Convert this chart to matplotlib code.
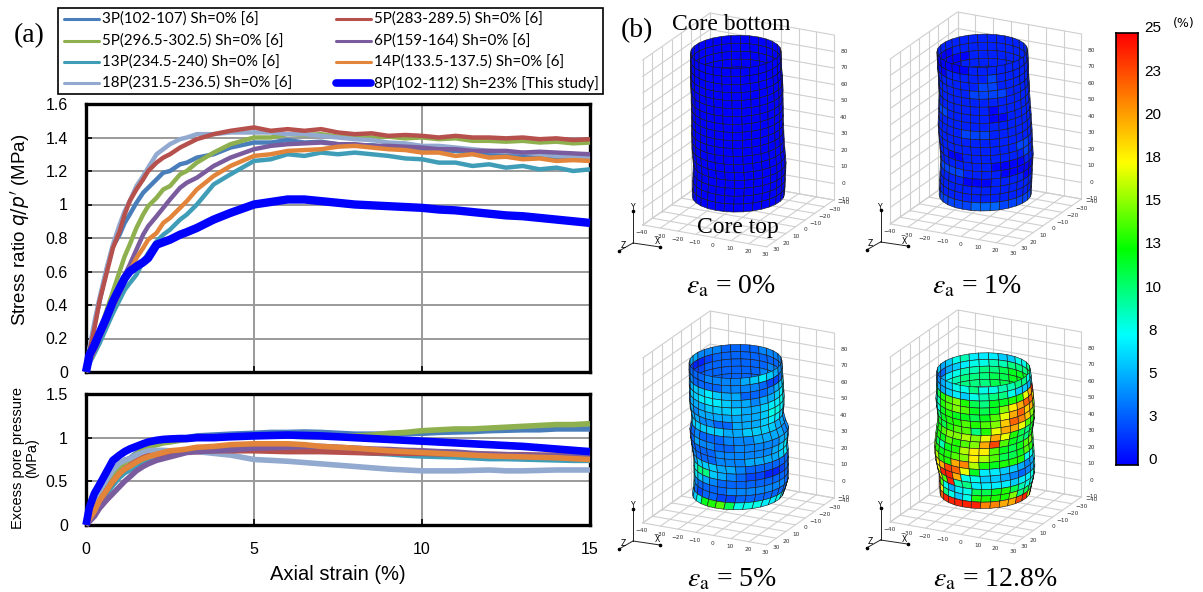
import matplotlib
matplotlib.use('Agg')
import matplotlib.pyplot as plt
import numpy as np
from matplotlib.collections import PolyCollection
from matplotlib.colors import LinearSegmentedColormap, Normalize

W, H = 1203, 592
plt.rcParams['mathtext.fontset'] = 'stix'

########################## CURVE DATA ################################
labels = ['3P(102-107) Sh=0% [6]', '5P(296.5-302.5) Sh=0% [6]', '13P(234.5-240) Sh=0% [6]',
          '18P(231.5-236.5) Sh=0% [6]', '5P(283-289.5) Sh=0% [6]', '6P(159-164) Sh=0% [6]',
          '14P(133.5-137.5) Sh=0% [6]', '8P(102-112) Sh=23% [This study]']
colors = ['#4A7EBB', '#8FB04F', '#3F9DB8', '#92A9D0', '#B5504D', '#7A5C9E', '#E2853A', '#0000FF']

strain = [0, .1, .25, .4, .6, .8, 1, 1.15, 1.3, 1.5, 1.7, 1.85, 2.1, 2.3, 2.5, 2.8, 3, 3.3, 3.8, 4.3, 5,
          5.5, 6, 6.5, 7, 7.5, 8, 8.5, 9, 9.5, 10, 10.5, 11, 11.5, 12, 12.5, 13, 13.5, 14, 14.5, 15]

q_3p = [0, .13, .28, .42, .60, .75, .82, .89, .94, 1.01, 1.07, 1.10, 1.15, 1.19, 1.20, 1.24, 1.25, 1.28, 1.30, 1.34, 1.37,
        1.37, 1.385, 1.37, 1.375, 1.36, 1.35, 1.355, 1.34, 1.335, 1.33, 1.325, 1.32, 1.31, 1.30, 1.30, 1.29, 1.285, 1.28, 1.28, 1.27]
q_5p2 = [0, .07, .16, .24, .36, .48, .60, .69, .76, .86, .94, .99, 1.04, 1.09, 1.11, 1.18, 1.20, 1.25, 1.31, 1.36, 1.40,
         1.40, 1.42, 1.415, 1.42, 1.405, 1.41, 1.40, 1.405, 1.395, 1.40, 1.39, 1.395, 1.38, 1.38, 1.375, 1.38, 1.37, 1.375, 1.365, 1.37]
q_13p = [0, .05, .11, .17, .26, .35, .43, .49, .53, .58, .66, .71, .78, .82, .85, .91, .94, 1.0, 1.12, 1.18, 1.26,
         1.27, 1.30, 1.29, 1.31, 1.30, 1.31, 1.30, 1.29, 1.275, 1.27, 1.25, 1.25, 1.23, 1.24, 1.22, 1.23, 1.21, 1.22, 1.20, 1.21]
q_18p = [0, .14, .30, .44, .61, .76, .88, .96, 1.02, 1.11, 1.17, 1.22, 1.30, 1.33, 1.36, 1.39, 1.40, 1.42, 1.42, 1.43, 1.43,
         1.43, 1.42, 1.42, 1.41, 1.40, 1.39, 1.385, 1.37, 1.365, 1.35, 1.35, 1.34, 1.33, 1.32, 1.315, 1.31, 1.30, 1.29, 1.285, 1.28]
q_5p1 = [0, .12, .26, .42, .58, .74, .84, .94, 1.02, 1.09, 1.15, 1.20, 1.25, 1.28, 1.30, 1.34, 1.36, 1.39, 1.42, 1.44, 1.46,
         1.44, 1.45, 1.44, 1.45, 1.43, 1.42, 1.425, 1.41, 1.415, 1.41, 1.40, 1.41, 1.40, 1.40, 1.395, 1.40, 1.39, 1.395, 1.385, 1.39]
q_6p = [0, .06, .13, .21, .31, .41, .51, .58, .64, .73, .82, .87, .93, .98, 1.03, 1.10, 1.13, 1.16, 1.23, 1.28, 1.33,
        1.35, 1.36, 1.365, 1.37, 1.36, 1.36, 1.35, 1.35, 1.345, 1.34, 1.33, 1.33, 1.32, 1.32, 1.32, 1.31, 1.315, 1.31, 1.305, 1.30]
q_14p = [0, .06, .13, .20, .29, .39, .47, .54, .60, .68, .74, .79, .83, .89, .92, .98, 1.02, 1.09, 1.17, 1.23, 1.29,
         1.30, 1.32, 1.325, 1.33, 1.345, 1.35, 1.34, 1.33, 1.325, 1.31, 1.31, 1.29, 1.30, 1.28, 1.285, 1.27, 1.275, 1.26, 1.265, 1.26]
q_8p = [0, .10, .16, .23, .32, .42, .50, .56, .60, .63, .655, .68, .76, .775, .79, .82, .835, .86, .91, .95, 1.0,
        1.015, 1.03, 1.03, 1.02, 1.01, 1.0, .995, .99, .985, .98, .97, .965, .955, .945, .935, .93, .92, .91, .90, .89]
stress_ratio = [q_3p, q_5p2, q_13p, q_18p, q_5p1, q_6p, q_14p, q_8p]

u_3p = [0, .09, .20, .34, .46, .58, .68, .74, .76, .82, .87, .90, .94, .96, .97, .99, 1.0, 1.02, 1.03, 1.04, 1.05,
        1.06, 1.06, 1.065, 1.06, 1.05, 1.04, 1.04, 1.04, 1.045, 1.05, 1.06, 1.065, 1.07, 1.08, 1.085, 1.09, 1.09, 1.10, 1.10, 1.10]
u_5p2 = [0, .08, .19, .32, .44, .56, .66, .72, .75, .81, .86, .89, .92, .94, .95, .97, .98, 1.0, 1.0, 1.01, 1.02,
         1.02, 1.02, 1.01, 1.01, 1.015, 1.02, 1.03, 1.05, 1.06, 1.08, 1.09, 1.10, 1.10, 1.11, 1.12, 1.13, 1.14, 1.15, 1.15, 1.16]
u_13p = [0, .06, .14, .25, .36, .46, .55, .60, .63, .69, .73, .76, .79, .80, .82, .84, .85, .87, .88, .89, .90,
         .90, .89, .885, .87, .855, .84, .825, .815, .80, .79, .785, .78, .77, .76, .76, .755, .75, .745, .74, .74]
u_18p = [0, .10, .21, .36, .51, .63, .71, .74, .76, .80, .83, .85, .855, .855, .85, .85, .85, .84, .82, .80, .75,
         .74, .73, .715, .70, .685, .67, .655, .64, .63, .62, .62, .62, .625, .63, .62, .62, .625, .63, .63, .63]
u_5p1 = [0, .07, .17, .27, .39, .50, .59, .64, .68, .73, .77, .79, .80, .82, .83, .835, .84, .84, .85, .85, .85,
         .845, .84, .84, .84, .835, .83, .825, .825, .82, .82, .815, .815, .81, .81, .805, .805, .80, .80, .80, .80]
u_6p = [0, .04, .10, .19, .28, .36, .44, .50, .55, .62, .67, .70, .74, .76, .78, .81, .83, .84, .85, .86, .88,
        .885, .89, .90, .90, .89, .88, .87, .865, .855, .85, .84, .835, .82, .81, .805, .80, .795, .79, .785, .78]
u_14p = [0, .07, .16, .28, .39, .50, .59, .64, .67, .72, .76, .78, .81, .83, .85, .86, .87, .89, .90, .92, .93,
         .93, .93, .92, .90, .89, .88, .865, .85, .84, .83, .82, .81, .80, .79, .785, .78, .775, .77, .76, .75]
u_8p = [0, .20, .36, .46, .60, .74, .80, .84, .87, .90, .93, .95, .97, .98, .985, .99, .99, 1.0, 1.0, 1.01, 1.02,
        1.025, 1.03, 1.025, 1.02, 1.01, 1.0, .99, .98, .97, .96, .95, .94, .93, .92, .91, .90, .885, .87, .855, .84]
pore_pressure = [u_3p, u_5p2, u_13p, u_18p, u_5p1, u_6p, u_14p, u_8p]

########################## SPECIMEN DATA ################################
panel_labels = ['0%', '1%', '5%', '12.8%']

# strain per cell, rows top to bottom, columns left to right
back_0 = [[0] * 15 for _ in range(5)]
front_0 = [[0] * 15 for _ in range(18)]

back_1 = [[1, 1, 1, 1, 1, 1, 1, 1, 1, 1, 1, 1, 1, 1, 1],
          [0, 0, 0, 0, 1, 1, 1, 1, 1, 1, 1, 1, 1, 1, 1],
          [0, 0, 0, 0, 0, 0, 1, 1, 1, 1, 1, 1, 1, 1, 1],
          [0, 0, 0, 0, 0, 1, 1, 1, 1, 1, 1, 1, 1, 1, 1],
          [0, 0, 0, 0, 0, 1, 1, 1, 1, 1, 1, 1, 1, 1, 1]]
front_1 = [[0, 0, 0, 0, 0, 0, 1, 1, 1, 1, 1, 1, 1, 1, 1],
           [0, 0, 0, 1, 1, 1, 1, 1, 2, 1, 1, 1, 1, 1, 1],
           [1, 1, 1, 1, 1, 1, 1, 2, 2, 1, 1, 1, 1, 1, 1],
           [1, 1, 1, 1, 1, 1, 2, 2, 2, 2, 1, 1, 1, 1, 1],
           [1, 1, 1, 1, 1, 1, 1, 1, 1, 1, 1, 1, 1, 1, 1],
           [1, 1, 1, 1, 1, 1, 1, 1, 0, 1, 1, 1, 1, 1, 1],
           [1, 2, 2, 1, 1, 1, 1, 1, 0, 0, 1, 1, 1, 1, 1],
           [1, 1, 1, 1, 1, 1, 1, 1, 1, 1, 1, 1, 1, 1, 1],
           [1, 1, 1, 1, 1, 2, 2, 2, 1, 1, 1, 1, 1, 1, 1],
           [0, 1, 1, 1, 1, 1, 1, 1, 1, 1, 1, 1, 1, 1, 1],
           [0, 1, 1, 1, 1, 1, 1, 1, 1, 1, 1, 2, 2, 1, 1],
           [1, 1, 1, 0, 0, 1, 1, 1, 1, 1, 1, 1, 2, 1, 1],
           [1, 1, 1, 1, 1, 1, 1, 1, 0, 0, 0, 0, 1, 1, 1],
           [1, 2, 2, 2, 2, 1, 1, 1, 1, 0, 0, 0, 0, 0, 1],
           [2, 1, 1, 1, 1, 0, 0, 0, 1, 1, 1, 1, 0, 0, 1],
           [1, 1, 1, 1, 1, 1, 1, 1, 1, 1, 1, 1, 1, 1, 1],
           [1, 1, 1, 1, 1, 1, 1, 1, 1, 1, 1, 1, 1, 1, 1],
           [2, 2, 2, 2, 2, 2, 3, 3, 3, 2, 2, 2, 2, 2, 2]]

back_5 = [[5, 5, 5, 4, 4, 4, 3, 3, 3, 3, 4, 4, 4, 4, 4],
          [3, 2, 1, 1, 2, 3, 3, 3, 3, 3, 3, 3, 3, 4, 4],
          [2, 2, 2, 2, 3, 3, 3, 3, 3, 3, 3, 4, 4, 5, 5],
          [3, 3, 3, 3, 3, 3, 3, 3, 3, 3, 4, 4, 4, 4, 4],
          [3, 3, 3, 3, 3, 3, 3, 3, 3, 3, 4, 4, 4, 4, 4]]
front_5 = [[3, 3, 3, 3, 4, 4, 4, 4, 5, 6, 7, 6, 5, 4, 4],
           [4, 4, 3, 3, 3, 3, 4, 4, 4, 4, 3, 2, 2, 3, 6],
           [5, 5, 6, 6, 7, 6, 5, 5, 3, 3, 3, 4, 5, 6, 7],
           [5, 6, 6, 7, 7, 7, 6, 5, 5, 4, 5, 5, 6, 7, 7],
           [4, 5, 5, 5, 6, 6, 6, 6, 5, 5, 6, 7, 7, 8, 7],
           [5, 5, 4, 5, 5, 5, 5, 5, 5, 5, 6, 8, 8, 7, 6],
           [5, 5, 5, 4, 4, 3, 3, 5, 5, 5, 6, 7, 7, 6, 5],
           [5, 6, 6, 6, 6, 6, 5, 5, 6, 6, 6, 6, 5, 5, 4],
           [3, 3, 4, 3, 3, 3, 4, 4, 4, 5, 5, 5, 5, 4, 4],
           [3, 3, 5, 4, 4, 3, 3, 4, 4, 4, 4, 4, 5, 5, 4],
           [3, 3, 3, 3, 3, 4, 4, 4, 4, 4, 4, 5, 6, 7, 6],
           [4, 4, 3, 3, 3, 4, 4, 4, 5, 5, 5, 5, 6, 7, 5],
           [6, 5, 6, 6, 6, 5, 5, 4, 3, 3, 3, 3, 3, 3, 3],
           [7, 8, 10, 10, 6, 5, 4, 3, 2, 2, 1, 1, 2, 3, 3],
           [6, 7, 6, 5, 4, 3, 3, 3, 3, 3, 3, 3, 3, 3, 3],
           [7, 4, 3, 3, 3, 3, 4, 4, 4, 4, 4, 4, 4, 3, 4],
           [7, 3, 2, 3, 3, 2, 2, 3, 3, 3, 3, 3, 3, 3, 3],
           [5, 6, 8, 12, 13, 14, 11, 8, 8, 8, 7, 7, 8, 7, 7]]

back_12 = [[6, 6, 5, 6, 8, 9, 7, 7, 7, 6, 6, 8, 8, 10, 10],
           [3, 3, 3, 5, 6, 7, 8, 8, 9, 9, 10, 10, 10, 11, 12],
           [5, 4, 5, 7, 8, 9, 9, 10, 10, 11, 12, 12, 12, 13, 13],
           [6, 6, 7, 8, 9, 10, 10, 10, 11, 11, 12, 12, 13, 13, 13],
           [7, 7, 8, 9, 9, 10, 10, 10, 11, 11, 12, 12, 13, 13, 13]]
front_12 = [[4, 4, 5, 6, 8, 8, 10, 8, 8, 9, 9, 10, 10, 8, 8],
            [6, 5, 5, 6, 7, 6, 8, 9, 10, 10, 8, 6, 6, 5, 7],
            [10, 11, 13, 14, 15, 13, 11, 10, 12, 12, 13, 13, 17, 20, 24],
            [7, 9, 13, 14, 15, 14, 12, 11, 12, 15, 18, 20, 22, 22, 18],
            [7, 8, 12, 13, 12, 12, 11, 12, 14, 17, 20, 22, 19, 20, 15],
            [9, 10, 12, 13, 13, 14, 13, 14, 15, 19, 22, 21, 19, 15, 14],
            [13, 12, 11, 13, 14, 14, 10, 13, 17, 20, 20, 17, 14, 13, 14],
            [12, 13, 14, 15, 15, 16, 15, 17, 20, 17, 13, 11, 10, 12, 13],
            [12, 13, 12, 14, 13, 14, 15, 20, 23, 14, 12, 11, 10, 12, 11],
            [14, 11, 9, 12, 13, 16, 18, 18, 14, 12, 11, 12, 14, 15, 13],
            [15, 13, 12, 13, 14, 15, 18, 16, 14, 11, 11, 12, 14, 13, 10],
            [18, 16, 13, 13, 20, 21, 16, 13, 12, 13, 13, 13, 8, 8, 10],
            [19, 18, 20, 23, 22, 17, 12, 7, 7, 6, 6, 5, 4, 5, 8],
            [17, 17, 24, 24, 20, 8, 8, 6, 6, 5, 4, 3, 4, 5, 8],
            [20, 17, 14, 24, 9, 10, 7, 7, 7, 7, 6, 7, 7, 8, 9],
            [24, 14, 8, 5, 7, 8, 11, 11, 12, 13, 11, 9, 8, 8, 8],
            [24, 18, 10, 8, 6, 8, 13, 13, 13, 13, 15, 10, 11, 10, 9],
            [20, 22, 24, 24, 24, 24, 24, 21, 21, 20, 20, 23, 24, 16, 13]]

# ring height, radius and sideways shift in mm, top ring first
ring_y_0 = [87, 82.1, 77.3, 72.5, 67.8, 63, 58.1, 53.4, 48.6, 43.7, 39, 34.1, 29.3, 24.5, 19.8, 15, 10.2, 5.4, .5]
ring_r_0 = [22.5, 22.5, 22.6, 22.7, 22.8, 22.8, 22.8, 22.8, 22.8, 22.8, 22.9, 22.9, 23, 23, 23, 23, 23, 23, 22.9]
ring_s_0 = [-1.5, -1.4, -1.3, -1.1, -.9, -.75, -.7, -.6, -.5, -.45, -.4, -.2, 0, .4, .75, .6, .4, .2, 0]
ring_y_1 = [87, 82.1, 77.3, 72.5, 67.8, 63, 58.1, 53.4, 48.6, 43.7, 39, 34.1, 29.3, 24.5, 19.8, 15, 10.2, 5.4, .5]
ring_r_1 = [22.5, 22.5, 22.5, 22.4, 22.4, 22.4, 22.6, 22.8, 23, 23.2, 23.2, 23.1, 23, 23, 22.9, 22.9, 22.9, 22.9, 22.9]
ring_s_1 = [-2, -1.8, -1.6, -1.3, -1.1, -.9, -.8, -.7, -.6, -.56, -.3, 0, .3, .56, .4, .2, 0, -.2, -.3]
ring_y_5 = [80, 75.6, 71.2, 66.8, 62.4, 58, 53.6, 49.2, 44.8, 40.4, 36, 31.6, 27.2, 22.8, 18.4, 14, 9.6, 5, .5]
ring_r_5 = [23, 23.1, 23.2, 23.3, 23.4, 23.5, 23.3, 22.8, 23.4, 24.5, 24.3, 23.8, 23.7, 23.5, 23.5, 23.4, 23.4, 23, 22.6]
ring_s_5 = [-1.6, -1.5, -1.3, -1.2, -1, -.9, -.7, -.5, 0, .5, .6, .7, 1.2, 1.6, 1.6, 1.6, 1.6, .8, -.3]
ring_y_12 = [74.3, 70.2, 66.1, 62, 57.9, 53.8, 49.7, 45.6, 41.5, 37.4, 33.3, 29.2, 25.1, 21, 16.9, 12.8, 8.7, 4.6, .5]
ring_r_12 = [23.2, 23.4, 23.6, 23.9, 24.2, 24.2, 24.1, 24, 24, 24, 24.3, 24.6, 24.6, 24.5, 24.2, 23.7, 23.3, 22.8, 22.4]
ring_s_12 = [-1.3, -1.1, -.9, -.7, -.6, -.3, .1, .2, -.4, -.9, -1, -1, -.8, -.4, .1, .6, .3, -.1, -.4]

bar_ticks = [25, 22.5, 20, 17.5, 15, 12.5, 10, 7.5, 5, 2.5, 0]
bar_labels = ['25', '23', '20', '18', '15', '13', '10', '8', '5', '3', '0']

########################## FIGURE ################################
fig = plt.figure(figsize=(W / 100, H / 100), dpi=100, facecolor='white')


def px_axes(left, top, right, bottom):
    return fig.add_axes([left / W, 1 - bottom / H, (right - left) / W, (bottom - top) / H])


def style_chart(ax, ymax, yticks, yticklabels):
    ax.set_xlim(0, 15)
    ax.set_ylim(0, ymax)
    ax.set_xticks([0, 5, 10, 15])
    ax.set_yticks(yticks)
    ax.set_yticklabels(yticklabels, family='Liberation Sans', fontsize=11.5)
    ax.grid(True, color='#9a9a9a', lw=1.4)
    ax.set_axisbelow(True)
    ax.tick_params(direction='in', length=4, width=1.2, pad=13)
    for s in ax.spines.values():
        s.set_linewidth(2.4)


ax1 = px_axes(86, 104, 590, 372)
ax2 = px_axes(86, 394, 590, 525)
for i in range(8):
    ax1.plot(strain, stress_ratio[i], color=colors[i], lw=6 if i == 7 else 3.2, clip_on=False, solid_capstyle='butt', zorder=3 + i)
    ax2.plot(strain, pore_pressure[i], color=colors[i], lw=5.5 if i == 7 else 4, clip_on=False, solid_capstyle='butt', zorder=3 + i)

style_chart(ax1, 1.6, [0, .2, .4, .6, .8, 1, 1.2, 1.4, 1.6], ['0', '0.2', '0.4', '0.6', '0.8', '1', '1.2', '1.4', '1.6'])
ax1.set_xticklabels([])
style_chart(ax2, 1.5, [0, .5, 1, 1.5], ['0', '0.5', '1', '1.5'])
ax2.set_xticklabels(['0', '5', '10', '15'], family='Liberation Sans', fontsize=11.5)
ax2.tick_params(axis='x', pad=12)

# overlay in picture pixels for everything outside the two charts
ov = fig.add_axes([0, 0, 1, 1], zorder=5)
ov.set_xlim(0, W)
ov.set_ylim(H, 0)
ov.axis('off')
ov.patch.set_alpha(0)

ov.text(338, 575, 'Axial strain (%)', ha='center', va='center', family='Liberation Sans', fontsize=14.5)
ov.text(20, 230, "Stress ratio $\\mathit{q/p'}$ (MPa)", ha='center', va='center', rotation=90,
        family='Liberation Sans', fontsize=13.5, math_fontfamily='dejavusans')
ov.text(25, 458, 'Excess pore pressure\n(MPa)', ha='center', va='center', rotation=90, linespacing=1.05,
        family='Liberation Sans', fontsize=10.5)
ov.text(29, 36, '(a)', ha='center', va='center', family='Liberation Serif', fontsize=20)
ov.text(637, 31, '(b)', ha='center', va='center', family='Liberation Serif', fontsize=20)

# legend, first column then second
ov.add_patch(plt.Rectangle((58, 7.5), 545, 86, fc='white', ec='black', lw=1.2, zorder=2))
legend_rows = [19, 41, 62, 83]
for i in range(8):
    col = i // 4
    row = legend_rows[i % 4]
    x0 = 64 if col == 0 else 336
    ov.plot([x0, x0 + 35], [row, row], color=colors[i], lw=5.5 if i == 7 else 2.2, zorder=3, solid_capstyle='round')
    ov.text(x0 + 38, row, labels[i], ha='left', va='center', family='Lato', fontsize=10.9, zorder=4)

# colour scale
cmap = LinearSegmentedColormap.from_list('strain', [(0, '#0000FF'), (.3, '#00FFFF'), (.5, '#00FF00'), (.7, '#FFFF00'), (1, '#FF0000')], N=256)
norm = Normalize(0, 25)
cax = px_axes(1116, 33, 1138, 465)
cax.imshow(np.linspace(25, 0, 256).reshape(-1, 1), aspect='auto', cmap=cmap, norm=norm, extent=[0, 1, 0, 25])
cax.set_xticks([])
cax.set_yticks([])
for s in cax.spines.values():
    s.set_linewidth(1.2)
for v, t in zip(bar_ticks, bar_labels):
    ov.text(1153, 465 - v * 17.28 - 4.5, t, ha='center', va='center', family='Liberation Sans', fontsize=11)
ov.text(1184, 23, '(%)', ha='center', va='center', family='DejaVu Sans', fontsize=9)


# oblique view of the specimen box
def project(origin, x, y, z):
    return (origin[0] + 1.77 * (x + 40) - .96 * (z + 40),
            origin[1] + .314 * (x + 40) + .67 * (z + 40) + 1.65 * (90 - y))


def draw_box(origin):
    grid = '#cfcfcf'
    for x in range(-40, 31, 10):
        ov.plot(*zip(project(origin, x, 90, -40), project(origin, x, -10, -40)), color=grid, lw=.8)
        ov.plot(*zip(project(origin, x, -10, -40), project(origin, x, -10, 30)), color=grid, lw=.8)
    for z in range(-40, 31, 10):
        ov.plot(*zip(project(origin, -40, 90, z), project(origin, -40, -10, z)), color=grid, lw=.8)
        ov.plot(*zip(project(origin, -40, -10, z), project(origin, 30, -10, z)), color=grid, lw=.8)
    for y in range(-10, 91, 10):
        ov.plot(*zip(project(origin, -40, y, 30), project(origin, -40, y, -40), project(origin, 30, y, -40)), color=grid, lw=.8)
    tiny = dict(ha='center', va='center', family='DejaVu Sans', fontsize=4.2, color='#333333')
    for y in range(-10, 81, 10):
        p = project(origin, 30, y, -40)
        ov.text(p[0] + 10, p[1], str(y).replace('-', '\u2212'), **tiny)
    for x in range(-40, 31, 10):
        p = project(origin, x, -10, 30)
        ov.text(p[0] - 1, p[1] + 8, str(x).replace('-', '\u2212'), **tiny)
    for z in range(-40, 31, 10):
        p = project(origin, 30, -10, z)
        ov.text(p[0] + 10, p[1] + 3, str(z).replace('-', '\u2212'), **tiny)
    # little axis triad
    ax0, ay0 = origin[0] - 77, origin[1] + 230
    ends = [(ax0, ay0 - 32), (ax0 + 27, ay0 + 4), (ax0 - 14, ay0 + 8)]
    for name, (ex, ey), off in zip('YXZ', ends, [(0, -3), (-3, -5), (4, -6)]):
        ov.plot([ax0, ex], [ay0, ey], color='#222222', lw=.7)
        ov.plot([ex], [ey], 'o', color='black', ms=1.6)
        ov.text(ex + off[0], ey + off[1], name, ha='center', va='center', family='DejaVu Sans', fontsize=5.5)


def cell_verts(origin, ring_y, ring_r, ring_s, rows, phi_start, phi_step):
    verts = []
    vals = []
    for i, row in enumerate(rows):
        for k, v in enumerate(row):
            quad = []
            for ring, step in ((i, k), (i, k + 1), (i + 1, k + 1), (i + 1, k)):
                phi = np.radians(phi_start + phi_step * step)
                a, b = ring_r[ring] * np.cos(phi), ring_r[ring] * np.sin(phi)
                x = -5 + ring_s[ring] + (1.77 * a + .96 * b) / 2.01
                z = -5 + (-.96 * a + 1.77 * b) / 2.01
                quad.append(project(origin, x, ring_y[ring], z))
            verts.append(quad)
            vals.append(v)
    return verts, vals


def draw_specimen(origin, ring_y, ring_r, ring_s, back, front):
    draw_box(origin)
    for rows, start, step, zo in ((back, 180, 12, 6), (front, 180, -12, 7)):
        verts, vals = cell_verts(origin, ring_y, ring_r, ring_s, rows, start, step)
        ov.add_collection(PolyCollection(verts, array=np.array(vals, dtype=float), cmap=cmap, norm=norm,
                                         edgecolors='#1a1a1a', linewidths=.42, zorder=zo))


panels = [((710, 13), ring_y_0, ring_r_0, ring_s_0, back_0, front_0, (731, 287)),
          ((957.5, 12), ring_y_1, ring_r_1, ring_s_1, back_1, front_1, (977, 287)),
          ((710, 311), ring_y_5, ring_r_5, ring_s_5, back_5, front_5, (732, 580)),
          ((957.5, 310), ring_y_12, ring_r_12, ring_s_12, back_12, front_12, (995, 580))]
for (origin, ry, rr, rs, back, front, lab), pct in zip(panels, panel_labels):
    draw_specimen(origin, ry, rr, rs, back, front)
    ov.text(lab[0], lab[1], r'$\mathit{\varepsilon}_{\mathrm{a}}$ = ' + pct, ha='center', va='center',
            family='Liberation Serif', fontsize=20, zorder=9)

ov.text(731, 24, 'Core bottom', ha='center', va='center', family='Liberation Serif', fontsize=17, zorder=9)
ov.text(738, 228, 'Core top', ha='center', va='center', family='Liberation Serif', fontsize=17, zorder=9)

fig.savefig('out.png', dpi=100)
